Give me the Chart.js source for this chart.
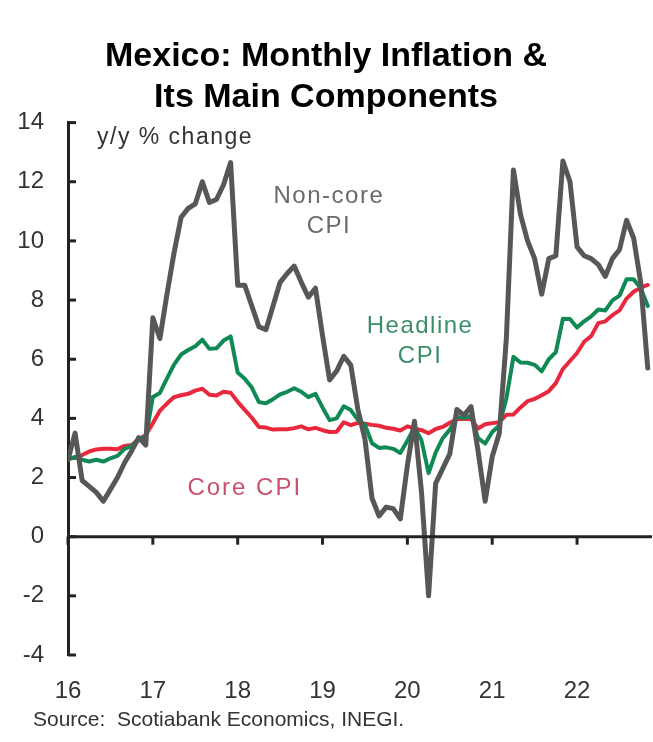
<!DOCTYPE html>
<html><head><meta charset="utf-8">
<script src="https://cdn.jsdelivr.net/npm/chart.js@4.4.1/dist/chart.umd.min.js"></script>
<style>html,body{margin:0;padding:0;background:#fff}#wrap{width:653px;height:742px;position:relative}</style>
</head><body><div id="wrap"><canvas id="c" width="653" height="742"></canvas></div>
<script>
// Monthly, Jan 2016 .. Nov 2022 (83 months); x = month index from Jan 2016
const yearLabels = ['16','17','18','19','20','21','22'];
const coreCPI = [
 2.64,2.66,2.76,2.88,2.95,2.97,2.97,2.96,3.07,3.10,3.29,3.44,
 3.84,4.26,4.50,4.72,4.78,4.83,4.94,5.00,4.80,4.77,4.90,4.87,
 4.56,4.29,4.02,3.71,3.69,3.62,3.63,3.63,3.67,3.73,3.63,3.68,
 3.60,3.54,3.55,3.87,3.77,3.85,3.82,3.78,3.75,3.68,3.65,3.59,
 3.73,3.66,3.60,3.50,3.64,3.71,3.85,3.97,3.99,3.98,3.66,3.80,
 3.84,3.87,4.12,4.13,4.37,4.58,4.66,4.78,4.92,5.19,5.67,5.94,
 6.21,6.59,6.78,7.22,7.28,7.49,7.65,8.05,8.28,8.42,8.51];
const headlineCPI = [
 2.61,2.70,2.60,2.54,2.60,2.54,2.65,2.73,2.97,3.06,3.31,3.36,
 4.72,4.86,5.35,5.82,6.16,6.31,6.44,6.66,6.35,6.37,6.63,6.77,
 5.55,5.34,5.04,4.55,4.51,4.65,4.81,4.90,5.02,4.90,4.72,4.83,
 4.37,3.94,4.00,4.41,4.28,3.95,3.78,3.16,3.00,3.02,2.97,2.83,
 3.24,3.70,3.25,2.15,2.84,3.33,3.62,4.05,4.01,4.09,3.33,3.15,
 3.54,3.76,4.67,6.08,5.89,5.88,5.81,5.59,6.00,6.24,7.37,7.36,
 7.07,7.28,7.45,7.68,7.65,7.99,8.15,8.70,8.70,8.41,7.80];
const nonCoreCPI = [
 2.6,3.5,1.9,1.7,1.5,1.2,1.6,2.0,2.5,2.9,3.35,3.1,
 7.4,6.7,8.2,9.6,10.8,11.1,11.25,12.0,11.3,11.4,11.9,12.65,
 8.5,8.5,7.8,7.1,7.0,7.8,8.6,8.9,9.15,8.6,8.1,8.4,
 6.8,5.3,5.6,6.1,5.8,4.3,3.3,1.3,0.7,1.0,0.95,0.6,
 2.4,3.9,1.5,-2.0,1.8,2.3,2.8,4.3,4.1,4.4,2.9,1.2,
 2.7,3.5,6.7,12.4,10.9,10.0,9.4,8.2,9.4,9.5,12.7,12.0,
 9.8,9.5,9.4,9.2,8.8,9.4,9.7,10.7,10.1,8.6,5.7];

const toXY = arr => arr.map((v, i) => ({x: i, y: v}));
const FONT = "'Liberation Sans', Arial, sans-serif";
const AXIS = '#222';

const overlay = {
  id: 'overlay',
  afterDraw(chart) {
    const {ctx, scales: {x, y}, chartArea: ca} = chart;
    ctx.save();
    // inward y ticks
    ctx.strokeStyle = AXIS; ctx.lineWidth = 3;
    y.ticks.forEach(t => {
      const py = y.getPixelForValue(t.value);
      ctx.beginPath(); ctx.moveTo(ca.left, py); ctx.lineTo(ca.left + 8, py); ctx.stroke();
    });
    // zero line with downward ticks
    const y0 = y.getPixelForValue(0);
    ctx.beginPath(); ctx.moveTo(ca.left, y0); ctx.lineTo(ca.right, y0); ctx.stroke();
    x.ticks.forEach(t => {
      const px = x.getPixelForValue(t.value);
      ctx.beginPath(); ctx.moveTo(px, y0); ctx.lineTo(px, y0 + 8); ctx.stroke();
    });
    // annotations
    ctx.textBaseline = 'middle';
    ctx.letterSpacing = '1.5px';
    ctx.font = '23px ' + FONT; ctx.fillStyle = '#333'; ctx.textAlign = 'left';
    ctx.fillText('y/y % change', ca.left + 29, y.getPixelForValue(13.5));
    ctx.font = '24px ' + FONT; ctx.textAlign = 'center';
    ctx.fillStyle = '#6a6a6a';
    ctx.fillText('Non-core', x.getPixelForValue(36.9), y.getPixelForValue(11.5));
    ctx.fillText('CPI', x.getPixelForValue(36.9), y.getPixelForValue(10.49));
    ctx.fillStyle = '#3a8f68';
    ctx.fillText('Headline', x.getPixelForValue(49.8), y.getPixelForValue(7.1));
    ctx.fillText('CPI', x.getPixelForValue(49.8), y.getPixelForValue(6.08));
    ctx.fillStyle = '#c9506a';
    ctx.letterSpacing = '2px';
    ctx.fillText('Core CPI', x.getPixelForValue(25), y.getPixelForValue(1.65));
    // source
    ctx.letterSpacing = '0px';
    ctx.font = '21px ' + FONT; ctx.fillStyle = '#333'; ctx.textAlign = 'left';
    ctx.fillText('Source:  Scotiabank Economics, INEGI.', 33, 720);
    ctx.restore();
  }
};

new Chart(document.getElementById('c'), {
  type: 'line',
  data: {
    datasets: [
      {label: 'Non-core CPI', data: toXY(nonCoreCPI), borderColor: '#575757', borderWidth: 5},
      {label: 'Headline CPI', data: toXY(headlineCPI), borderColor: '#0f8a55', borderWidth: 4},
      {label: 'Core CPI', data: toXY(coreCPI), borderColor: '#e8283c', borderWidth: 4}
    ]
  },
  options: {
    responsive: false, animation: false,
    devicePixelRatio: 1,
    elements: {point: {radius: 0}, line: {tension: 0, borderJoinStyle: 'round', borderCapStyle: 'round'}},
    layout: {padding: {top: 0, left: 0, right: 1, bottom: 27}},
    plugins: {
      legend: {display: false}, tooltip: {enabled: false},
      title: {display: true, text: ['Mexico: Monthly Inflation &', 'Its Main Components'],
        color: '#000', font: {family: FONT, size: 34, weight: 'bold', lineHeight: 1.2},
        padding: {top: 36, bottom: 5}}
    },
    scales: {
      x: {type: 'linear', min: 0, max: 82.6,
        grid: {display: false, drawTicks: false}, border: {display: false},
        afterBuildTicks: s => { s.ticks = yearLabels.map((l, i) => ({value: i * 12})); },
        afterFit: s => { s.height = 60; },
        ticks: {padding: 22, color: '#333', font: {family: FONT, size: 24},
          maxRotation: 0, autoSkip: false,
          callback: v => yearLabels[Math.round(v / 12)]}
      },
      y: {min: -4, max: 14,
        grid: {display: false, drawTicks: false},
        border: {display: true, color: AXIS, width: 3},
        afterFit: s => { s.width = 68; },
        ticks: {stepSize: 2, padding: 24, color: '#333', font: {family: FONT, size: 24}}
      }
    }
  },
  plugins: [overlay]
});
</script></body></html>
